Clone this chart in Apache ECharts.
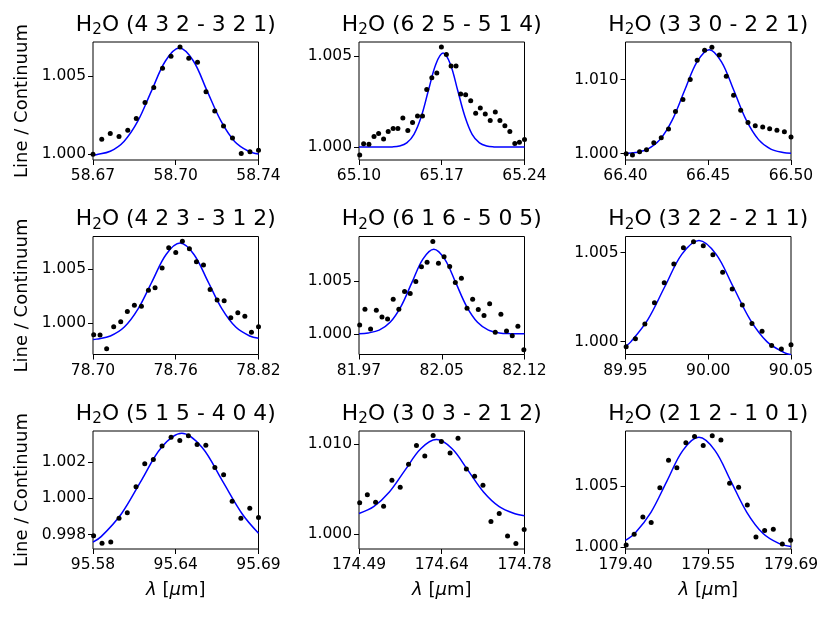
<!DOCTYPE html>
<html>
<head>
<meta charset="utf-8">
<script src="https://cdn.jsdelivr.net/npm/echarts@6/dist/echarts.min.js"></script>
<style>
html, body { margin: 0; padding: 0; background: #fff; }
#chart { width: 830px; height: 617px; }
</style>
</head>
<body>
<div id="chart"></div>
<script>
// transitions shown in the panel titles, row by row
var transitions = ['4 3 2 - 3 2 1', '6 2 5 - 5 1 4', '3 3 0 - 2 2 1',
                   '4 2 3 - 3 1 2', '6 1 6 - 5 0 5', '3 2 2 - 2 1 1',
                   '5 1 5 - 4 0 4', '3 0 3 - 2 1 2', '2 1 2 - 1 0 1'];

var xRanges = [[58.67, 58.74], [65.10, 65.24], [66.40, 66.50],
               [78.70, 78.82], [81.97, 82.12], [89.95, 90.05],
               [95.58, 95.69], [174.49, 174.78], [179.40, 179.69]];

var xTickLabels = [['58.67', '58.70', '58.74'], ['65.10', '65.17', '65.24'], ['66.40', '66.45', '66.50'],
                   ['78.70', '78.76', '78.82'], ['81.97', '82.05', '82.12'], ['89.95', '90.00', '90.05'],
                   ['95.58', '95.64', '95.69'], ['174.49', '174.64', '174.78'], ['179.40', '179.55', '179.69']];

var yRanges = [[0.99964, 1.00719], [0.99929, 1.00577], [0.99915, 1.01507],
               [0.99713, 1.00802], [0.99804, 1.00924], [0.99928, 1.00591],
               [0.99721, 1.00371], [0.99839, 1.01142], [0.99984, 1.00948]];

var yTicks = [[1.000, 1.005], [1.000, 1.005], [1.000, 1.010],
              [1.000, 1.005], [1.000, 1.005], [1.000, 1.005],
              [0.998, 1.000, 1.002], [1.000, 1.010], [1.000, 1.005]];

// observed line / continuum points
var obs1 = [[58.6700,1.00000],[58.6737,1.00096],[58.6773,1.00134],[58.6810,1.00115],[58.6847,1.00155],[58.6883,1.00230],[58.6920,1.00332],[58.6957,1.00428],[58.6994,1.00551],[58.7030,1.00628],[58.7068,1.00687],[58.7105,1.00615],[58.7142,1.00589],[58.7178,1.00400],[58.7215,1.00277],[58.7252,1.00181],[58.7290,1.00104],[58.7327,1.00006],[58.7364,1.00017],[58.7400,1.00026]];
var obs2 = [[65.1006,0.99956],[65.1039,1.00018],[65.1084,1.00015],[65.1127,1.00058],[65.1166,1.00075],[65.1208,1.00044],[65.1247,1.00086],[65.1289,1.00102],[65.1329,1.00102],[65.1371,1.00159],[65.1413,1.00091],[65.1453,1.00135],[65.1495,1.0017],[65.1537,1.0017],[65.1573,1.00316],[65.1616,1.00381],[65.1658,1.00407],[65.1697,1.00549],[65.1739,1.00509],[65.1779,1.00445],[65.1821,1.00445],[65.186,1.00292],[65.1902,1.00288],[65.1945,1.00254],[65.1987,1.00186],[65.2026,1.00214],[65.2068,1.00181],[65.211,1.00146],[65.2153,1.00192],[65.2192,1.00146],[65.2234,1.00117],[65.2276,1.00086],[65.2318,1.0002],[65.2357,1.00026],[65.24,1.00042]];
var obs3 = [[66.4004,1.0],[66.4042,0.99982],[66.4085,1.00027],[66.4127,1.00054],[66.4171,1.00148],[66.4216,1.00215],[66.426,1.00332],[66.4302,1.0057],[66.4347,1.00731],[66.4391,1.01],[66.4433,1.0126],[66.4478,1.01395],[66.4522,1.01435],[66.4567,1.01332],[66.4609,1.01045],[66.4653,1.00789],[66.4696,1.00587],[66.474,1.00422],[66.4784,1.00377],[66.4829,1.00359],[66.4871,1.00336],[66.4915,1.00318],[66.496,1.00296],[66.5,1.00224]];
var obs4 = [[78.7005,0.99896],[78.7051,0.99893],[78.7099,0.99765],[78.715,0.9997],[78.7201,1.00015],[78.7249,1.0011],[78.73,1.00168],[78.7351,1.00159],[78.7402,1.00305],[78.745,1.00329],[78.7501,1.00512],[78.7549,1.00698],[78.76,1.00655],[78.7648,1.00759],[78.7699,1.00689],[78.775,1.0057],[78.7801,1.0054],[78.7849,1.00314],[78.79,1.00216],[78.7951,1.0021],[78.7999,1.00052],[78.805,1.00098],[78.8101,1.00067],[78.8149,0.99918],[78.82,0.9997]];
var obs5 = [[81.9706,1.00085],[81.9754,1.00234],[81.9805,1.00047],[81.9857,1.00225],[81.9908,1.00161],[81.9959,1.00142],[82.001,1.00329],[82.0061,1.00234],[82.0113,1.00402],[82.0164,1.00383],[82.0215,1.00497],[82.0266,1.00636],[82.0317,1.0068],[82.0369,1.00877],[82.042,1.00671],[82.0471,1.00731],[82.0522,1.00639],[82.0573,1.00487],[82.0628,1.00528],[82.0679,1.00244],[82.073,1.00329],[82.0781,1.00231],[82.0833,1.00174],[82.0884,1.00285],[82.0935,1.00016],[82.0986,1.00187],[82.1037,1.00028],[82.1089,0.99981],[82.114,1.00073],[82.1194,0.99848]];
var obs6 = [[89.9504,0.99972],[89.956,1.00017],[89.9617,1.00099],[89.9675,1.00219],[89.9734,1.00331],[89.9792,1.00437],[89.985,1.00528],[89.9911,1.00561],[89.997,1.00539],[90.0028,1.00489],[90.0087,1.0039],[90.0145,1.00296],[90.0206,1.00206],[90.0264,1.00102],[90.0325,1.00059],[90.0383,0.99978],[90.0442,0.99959],[90.05,0.99983]];
var obs7 = [[95.5804,0.99794],[95.586,0.99752],[95.5918,0.99759],[95.5973,0.9989],[95.6028,0.9992],[95.6086,1.00064],[95.6144,1.00191],[95.6201,1.00214],[95.6259,1.00289],[95.6319,1.00336],[95.6377,1.00318],[95.6434,1.00345],[95.6492,1.00296],[95.655,1.00292],[95.661,1.0017],[95.6668,1.0013],[95.6725,0.99984],[95.6783,0.9989],[95.6842,0.99945],[95.69,0.99894]];
var obs8 = [[174.4912,1.0035],[174.5046,1.00438],[174.5191,1.00354],[174.5331,1.0031],[174.5477,1.00599],[174.5622,1.00522],[174.5768,1.00774],[174.5907,1.00982],[174.6053,1.00865],[174.6199,1.01091],[174.6344,1.01026],[174.6496,1.00898],[174.6635,1.01062],[174.6781,1.00723],[174.6926,1.00642],[174.7072,1.00544],[174.7212,1.00142],[174.7357,1.0023],[174.7503,0.99982],[174.7649,0.99901],[174.7794,1.00055]];
var obs9 = [[179.4012,1.00016],[179.4152,1.00104],[179.4304,1.00245],[179.445,1.002],[179.4602,1.00484],[179.4754,1.00709],[179.49,1.00648],[179.5058,1.00852],[179.521,1.00904],[179.5362,1.0083],[179.552,1.0091],[179.5672,1.00874],[179.5824,1.00522],[179.5982,1.00489],[179.6134,1.00343],[179.6286,1.00082],[179.6438,1.00135],[179.659,1.00146],[179.6748,1.00025],[179.6894,1.00055]];

// fitted profile, sampled off the blue curves
var fit1 = [[58.67,0.99995],[58.6714,0.99998],[58.6773,1.0002],[58.6831,1.00083],[58.6890,1.00214],[58.6948,1.00408],[58.7007,1.00599],[58.7065,1.0068],[58.7124,1.00599],[58.7182,1.00408],[58.7241,1.00214],[58.7299,1.00083],[58.7358,1.0002],[58.74,1.00002]];
var fit2 = [[65.10,1.0],[65.1219,1.0],[65.1281,1.00001],[65.1342,1.00006],[65.1404,1.00023],[65.1465,1.0007],[65.1527,1.00168],[65.1588,1.00313],[65.165,1.00455],[65.1711,1.00516],[65.1773,1.00455],[65.1834,1.00313],[65.1896,1.00168],[65.1957,1.0007],[65.2019,1.00023],[65.208,1.00006],[65.2142,1.00001],[65.2203,1.0],[65.24,1.0]];
var fit3 = [[66.40,1.00004],[66.4060,1.00016],[66.4134,1.00062],[66.4208,1.0019],[66.4283,1.00456],[66.4357,1.00852],[66.4432,1.01239],[66.4506,1.01404],[66.458,1.01239],[66.4655,1.00852],[66.4729,1.00456],[66.4804,1.0019],[66.4878,1.00062],[66.4952,1.00016],[66.50,1.00006]];
var fit4 = [[78.70,0.99852],[78.7025,0.99855],[78.7126,0.99884],[78.7227,0.99966],[78.7328,1.00136],[78.7429,1.00388],[78.753,1.00636],[78.7631,1.00741],[78.7732,1.00636],[78.7833,1.00388],[78.7934,1.00136],[78.8035,0.99966],[78.8136,0.99884],[78.82,0.99862]];
var fit5 = [[81.97,1.00002],[81.9784,1.00009],[81.9883,1.00035],[81.9982,1.00109],[82.0081,1.00261],[82.018,1.00488],[82.0279,1.0071],[82.0378,1.00804],[82.0477,1.0071],[82.0576,1.00488],[82.0675,1.00261],[82.0774,1.00109],[82.0873,1.00035],[82.0972,1.00009],[82.1071,1.00002],[82.12,1.0]];
var fit6 = [[89.95,0.99974],[89.9532,0.99999],[89.9635,1.00124],[89.9738,1.0031],[89.9841,1.00492],[89.9944,1.00569],[90.0047,1.00492],[90.015,1.0031],[90.0253,1.00124],[90.0356,0.99999],[90.0459,0.99939],[90.05,0.99927]];
var fit7 = [[95.58,0.99759],[95.5854,0.99789],[95.5988,0.99914],[95.6122,1.00099],[95.6256,1.00281],[95.639,1.00358],[95.6524,1.00281],[95.6658,1.00099],[95.6792,0.99914],[95.69,0.99808]];
var fit8 = [[174.49,1.00231],[174.5157,1.00306],[174.5432,1.00468],[174.5707,1.0071],[174.5982,1.00946],[174.6257,1.01047],[174.6532,1.00946],[174.6807,1.0071],[174.7082,1.00468],[174.7357,1.00306],[174.7632,1.00228],[174.78,1.00207]];
var fit9 = [[179.40,1.00055],[179.4166,1.00113],[179.4446,1.00284],[179.4726,1.00539],[179.5006,1.0079],[179.5286,1.00896],[179.5566,1.0079],[179.5846,1.00539],[179.6126,1.00284],[179.6406,1.00113],[179.6686,1.0003],[179.69,1.00004]];

var observed = [obs1, obs2, obs3, obs4, obs5, obs6, obs7, obs8, obs9];
var fitted = [fit1, fit2, fit3, fit4, fit5, fit6, fit7, fit8, fit9];

// layout of the 3x3 grid (px)
var colLeft = [93, 359, 625.5];
var rowTop = [42, 236.5, 431];
var boxW = 165.5, boxH = 118;
var FONT = 'DejaVu Sans';

var chart = echarts.init(document.getElementById('chart'), null, { renderer: 'canvas' });

var grids = [], xAxes = [], yAxes = [], series = [], titles = [], graphics = [];

transitions.forEach(function (tr, i) {
    var row = Math.floor(i / 3), col = i % 3;
    var xr = xRanges[i];
    var xt = [xr[0], (xr[0] + xr[1]) / 2, xr[1]];
    var labels = xTickLabels[i];

    grids.push({
        left: colLeft[col], top: rowTop[row], width: boxW, height: boxH,
        show: true, borderColor: '#000', borderWidth: 1, backgroundColor: 'transparent'
    });

    xAxes.push({
        type: 'value', gridIndex: i, min: xr[0], max: xr[1],
        axisLine: { show: false },
        axisTick: { show: true, inside: false, length: 5, lineStyle: { color: '#000', width: 1 }, customValues: xt },
        axisLabel: {
            show: true, margin: 8, color: '#000', fontFamily: FONT, fontSize: 15.5,
            customValues: xt,
            formatter: function (v) {
                var best = 0;
                for (var k = 1; k < xt.length; k++) {
                    if (Math.abs(v - xt[k]) < Math.abs(v - xt[best])) best = k;
                }
                return labels[best];
            }
        },
        splitLine: { show: false }
    });

    yAxes.push({
        type: 'value', gridIndex: i, min: yRanges[i][0], max: yRanges[i][1],
        axisLine: { show: false },
        axisTick: { show: true, inside: false, length: 5, lineStyle: { color: '#000', width: 1 }, customValues: yTicks[i] },
        axisLabel: {
            show: true, margin: 7, color: '#000', fontFamily: FONT, fontSize: 15.5,
            customValues: yTicks[i],
            formatter: function (v) { return v.toFixed(3); }
        },
        splitLine: { show: false }
    });

    series.push({
        type: 'scatter', xAxisIndex: i, yAxisIndex: i,
        data: observed[i], symbolSize: 5,
        itemStyle: { color: '#000', opacity: 1 }, silent: true, z: 3
    });
    series.push({
        type: 'line', xAxisIndex: i, yAxisIndex: i,
        data: fitted[i], smooth: 0.35, showSymbol: false,
        lineStyle: { color: '#0000ff', width: 1.5 }, silent: true, z: 2
    });

    titles.push({
        text: '{a|H}{s|2}{a|O (' + tr + ')}',
        left: colLeft[col] + boxW / 2 - 5, textAlign: 'center',
        top: rowTop[row] - 35,
        textStyle: {
            fontWeight: 'normal',
            rich: {
                a: { fontFamily: FONT, fontSize: 21.8, fontWeight: 'normal', color: '#000', lineHeight: 26 },
                s: { fontFamily: FONT, fontSize: 15.2, fontWeight: 'normal', color: '#000', lineHeight: 15, verticalAlign: 'bottom' }
            }
        }
    });

    if (col === 0) {
        graphics.push({
            type: 'text', x: 22, y: rowTop[row] + boxH / 2, rotation: Math.PI / 2,
            style: { text: 'Line / Continuum', fontFamily: FONT, fontSize: 18, fill: '#000', align: 'center', verticalAlign: 'middle' }
        });
    }
    if (row === 2) {
        graphics.push({
            type: 'text', x: colLeft[col] + boxW / 2, y: 590,
            style: {
                text: '{i|λ} [{i|μ}m]', fontFamily: FONT, fontSize: 18, fill: '#000',
                align: 'center', verticalAlign: 'middle',
                rich: { i: { fontFamily: FONT, fontStyle: 'italic', fontSize: 18, fill: '#000' } }
            }
        });
    }
});

chart.setOption({
    backgroundColor: '#fff',
    animation: false,
    title: titles,
    grid: grids,
    xAxis: xAxes,
    yAxis: yAxes,
    series: series,
    graphic: graphics
});
</script>
</body>
</html>
